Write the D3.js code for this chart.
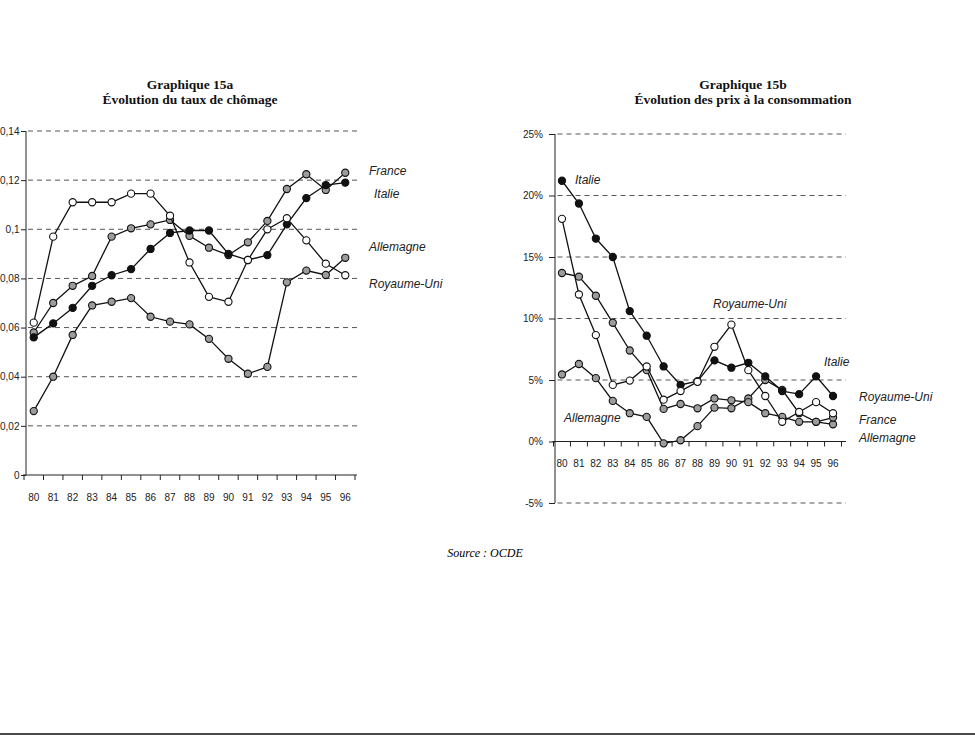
<!DOCTYPE html>
<meta charset="utf-8">
<head>
  <title>Graphiques 15a et 15b</title>
</head>

<style>
body {
  margin: 0;
  background: #fff;
}
svg { display: block; }
.axis text {
  font-family: "Liberation Sans", Arial, sans-serif;
  fill: #222;
}
.axis path, .axis line { stroke: #222; }
.titre {
  font-family: "Liberation Serif", "Times New Roman", serif;
  font-weight: bold;
  font-size: 13.5px;
  fill: #111;
}
.serie {
  font-family: "Liberation Sans", Arial, sans-serif;
  font-style: italic;
  font-size: 12px;
  fill: #222;
}
</style>

<body>
  <div id="content">
    <svg width="975" height="743"></svg>
  </div>

  <script src="https://cdnjs.cloudflare.com/ajax/libs/d3/7.8.5/d3.min.js"></script>

  <script>
var years = ['80','81','82','83','84','85','86','87','88','89','90','91','92','93','94','95','96'];

// Graphique 15a : taux de chomage
var chomFrance    = [0.058, 0.070, 0.077, 0.081, 0.097, 0.1004, 0.102, 0.1038, 0.0973, 0.0925, 0.0895, 0.0947, 0.1034, 0.1164, 0.1224, 0.116, 0.123];
var chomItalie    = [0.056, 0.0617, 0.068, 0.077, 0.0813, 0.0838, 0.092, 0.0985, 0.0995, 0.0995, 0.090, 0.0875, 0.0895, 0.102, 0.1127, 0.118, 0.119];
var chomAllemagne = [0.026, 0.040, 0.057, 0.069, 0.0705, 0.072, 0.0644, 0.0624, 0.0613, 0.0554, 0.0473, 0.0412, 0.044, 0.0784, 0.0832, 0.0814, 0.0884];
var chomRU        = [0.062, 0.097, 0.111, 0.111, 0.111, 0.1145, 0.1145, 0.1055, 0.0865, 0.0725, 0.0705, 0.0875, 0.100, 0.1045, 0.0955, 0.086, 0.0813];
var chomTicks = [0, 0.02, 0.04, 0.06, 0.08, 0.10, 0.12, 0.14];

// Graphique 15b : prix a la consommation (%)
var prixItalie    = [21.2, 19.35, 16.5, 15.0, 10.6, 8.6, 6.1, 4.6, 4.9, 6.6, 6.0, 6.4, 5.3, 4.1, 3.85, 5.3, 3.7];
var prixRU        = [18.1, 11.95, 8.65, 4.6, 4.95, 6.1, 3.4, 4.1, 4.85, 7.7, 9.5, 5.8, 3.7, 1.6, 2.4, 3.2, 2.3];
var prixFrance    = [13.7, 13.4, 11.85, 9.65, 7.4, 5.8, 2.65, 3.05, 2.7, 3.5, 3.35, 3.2, 2.3, 2.0, 1.6, 1.6, 1.95];
var prixAllemagne = [5.45, 6.3, 5.15, 3.3, 2.3, 2.0, -0.15, 0.1, 1.25, 2.75, 2.7, 3.5, 5.0, 4.2, 2.3, 1.6, 1.4];
var prixTicks = [-5, 0, 5, 10, 15, 20, 25];

var GRIS = '#9c9c9c';

var svg = d3.select('#content svg');

function drawChart(opt) {
  var g = svg.append('g');

  var x = d3.scaleBand().domain(years).range(opt.xRange).padding(0);
  var y = d3.scaleLinear().domain(opt.yDomain).range(opt.yRange);

  // gridlines
  g.selectAll('.grid').data(opt.ticks.filter(function(d) { return d !== 0; }))
    .enter().append('line')
    .attr('x1', opt.xRange[0] + 4)
    .attr('x2', opt.gridEnd)
    .attr('y1', function(d) { return y(d); })
    .attr('y2', function(d) { return y(d); })
    .attr('stroke', '#555')
    .attr('stroke-width', 1)
    .attr('stroke-dasharray', '5,4');

  // y axis
  var yAxis = d3.axisLeft(y).tickValues(opt.ticks).tickFormat(opt.fmt).tickSize(opt.yTick).tickPadding(opt.yPad);
  var ya = g.append('g').attr('class', 'axis')
    .attr('transform', 'translate(' + opt.yAxisX + ',0)')
    .call(yAxis);
  ya.select('.domain').attr('d', 'M0,' + opt.yRange[1] + 'V' + opt.yRange[0]);
  ya.selectAll('text').style('font-size', opt.yFont);

  // x axis (baseline at 0)
  var y0 = y(0);
  g.append('line').attr('class', 'axis')
    .attr('x1', opt.xRange[0] - 1).attr('x2', opt.gridEnd)
    .attr('y1', y0).attr('y2', y0)
    .attr('stroke', '#222');
  var bounds = years.map(function(d) { return x(d); }).concat([x(years[years.length - 1]) + x.bandwidth()]);
  g.selectAll('.xt').data(bounds).enter().append('line')
    .attr('x1', function(d) { return d; }).attr('x2', function(d) { return d; })
    .attr('y1', y0).attr('y2', y0 + 5)
    .attr('stroke', '#222');

  var xAxis = d3.axisBottom(x).tickSize(0).tickPadding(0);
  var xa = g.append('g').attr('class', 'axis')
    .attr('transform', 'translate(0,' + (y0 + opt.xLabelDy) + ')')
    .call(xAxis);
  xa.select('.domain').remove();
  xa.selectAll('text').style('font-size', '10px');

  // series
  var line = d3.line()
    .x(function(d, i) { return x(years[i]) + x.bandwidth() / 2; })
    .y(function(d) { return y(d); });

  opt.series.forEach(function(s) {
    g.append('path').datum(s.values)
      .attr('d', line)
      .attr('fill', 'none')
      .attr('stroke', '#111')
      .attr('stroke-width', 1.3);
    g.selectAll(null).data(s.values).enter().append('circle')
      .attr('cx', function(d, i) { return x(years[i]) + x.bandwidth() / 2; })
      .attr('cy', function(d) { return y(d); })
      .attr('r', 3.6)
      .attr('fill', s.fill)
      .attr('stroke', '#111')
      .attr('stroke-width', 1.1);
  });

  // series labels
  g.selectAll('.serie').data(opt.labels).enter().append('text')
    .attr('class', 'serie')
    .attr('x', function(d) { return d[1]; })
    .attr('y', function(d) { return d[2]; })
    .text(function(d) { return d[0]; });

  // titles
  g.selectAll('.titre').data(opt.title).enter().append('text')
    .attr('class', 'titre')
    .attr('text-anchor', 'middle')
    .attr('x', opt.titleX)
    .attr('y', function(d, i) { return 89 + i * 15; })
    .text(function(d) { return d; });
}

drawChart({
  xRange: [24, 355],
  yDomain: [0, 0.14],
  yRange: [475, 131],
  gridEnd: 357,
  yAxisX: 26,
  yTick: 5,
  yPad: 1.5,
  yFont: '10px',
  xLabelDy: 19,
  ticks: chomTicks,
  fmt: function(d) { return d === 0 ? '0' : d3.format('.2f')(d).replace('.', ',').replace(/0$/, ''); },
  series: [
    {values: chomAllemagne, fill: GRIS},
    {values: chomFrance, fill: GRIS},
    {values: chomItalie, fill: '#111'},
    {values: chomRU, fill: '#fff'}
  ],
  labels: [
    ['France', 369, 175],
    ['Italie', 374, 198],
    ['Allemagne', 369, 251],
    ['Royaume-Uni', 369, 288]
  ],
  title: ['Graphique 15a', '\u00c9volution du taux de ch\u00f4mage'],
  titleX: 190
});

drawChart({
  xRange: [553.5, 841.5],
  yDomain: [-5, 25],
  yRange: [503, 134],
  gridEnd: 846,
  yAxisX: 555,
  yTick: 6,
  yPad: 6,
  yFont: '10px',
  xLabelDy: 18,
  ticks: prixTicks,
  fmt: function(d) { return d + '%'; },
  series: [
    {values: prixAllemagne, fill: GRIS},
    {values: prixFrance, fill: GRIS},
    {values: prixItalie, fill: '#111'},
    {values: prixRU, fill: '#fff'}
  ],
  labels: [
    ['Italie', 575, 184],
    ['Royaume-Uni', 713, 308],
    ['Italie', 824, 366],
    ['Allemagne', 564, 422],
    ['Royaume-Uni', 859, 401],
    ['France', 859, 424],
    ['Allemagne', 859, 442]
  ],
  title: ['Graphique 15b', '\u00c9volution des prix \u00e0 la consommation'],
  titleX: 743
});

// source + filet du bas
svg.append('text')
  .attr('x', 485)
  .attr('y', 557)
  .attr('text-anchor', 'middle')
  .style('font-family', '"Liberation Serif", "Times New Roman", serif')
  .style('font-style', 'italic')
  .style('font-size', '12px')
  .text('Source : OCDE');

svg.append('line')
  .attr('x1', 0).attr('x2', 975)
  .attr('y1', 734).attr('y2', 734)
  .attr('stroke', '#111')
  .attr('stroke-width', 1.6);
  </script>
</body>
</html>
